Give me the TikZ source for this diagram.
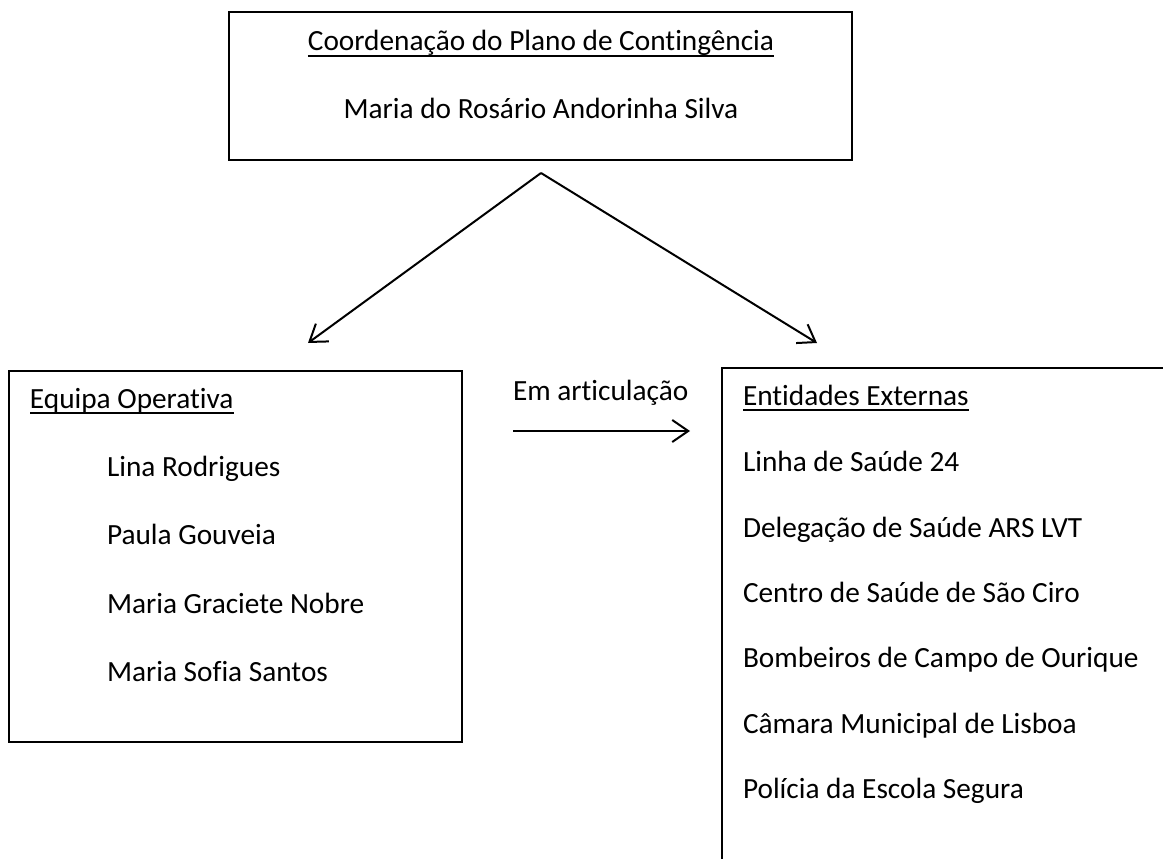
\documentclass[tikz,border=0pt]{standalone}
\usepackage{fontspec}
\setmainfont{Carlito}[Ligatures=NoCommon]
\usetikzlibrary{arrows.meta}
\tikzset{
  boxnode/.style={draw=black, line width=2pt, rectangle, inner sep=0pt, fill=none},
  txt/.style={inner sep=0pt, outer sep=0pt, font=\fontsize{29.3}{34}\selectfont, text=black},
  uline/.style={line width=1.8pt, draw=black},
  conn/.style={line width=2pt, draw=black, -{Straight Barb[length=16pt,width=22pt,line width=2pt]}}
}
\begin{document}
\begin{tikzpicture}[x=1pt,y=-1pt]
\useasboundingbox (0,0) rectangle (1163,859);
\fill[white] (0,0) rectangle (1163,859);
\clip (0,0) rectangle (1163,859);
% boxes
\node[boxnode, minimum width=623pt, minimum height=148pt] (coord) at (540.5,86) {};
\node[boxnode, minimum width=453pt, minimum height=371pt] (equipa) at (235.5,556.5) {};
\node[boxnode, minimum width=470pt, minimum height=520pt] (ext) at (957,628) {};
% top box text
\node[txt, anchor=base] (t1) at (541,51) {Coordenação do Plano de Contingência};
\node[txt, anchor=base] (t2) at (541,118) {Maria do Rosário Andorinha Silva};
\draw[uline] ([yshift=-5pt]t1.base west) -- ([yshift=-5pt]t1.base east);
% left box text
\node[txt, anchor=base west] (e0) at (30,408) {Equipa Operativa};
\draw[uline] ([yshift=-5pt]e0.base west) -- ([yshift=-5pt]e0.base east);
\node[txt, anchor=base west] (e1) at (107,476) {Lina Rodrigues};
\node[txt, anchor=base west] (e2) at (107,544) {Paula Gouveia};
\node[txt, anchor=base west] (e3) at (107,613) {Maria Graciete Nobre};
\node[txt, anchor=base west] (e4) at (107,681) {Maria Sofia Santos};
% right box text
\node[txt, anchor=base west] (x0) at (743,405) {Entidades Externas};
\draw[uline] ([yshift=-5pt]x0.base west) -- ([yshift=-5pt]x0.base east);
\node[txt, anchor=base west] (x1) at (743,471) {Linha de Saúde 24};
\node[txt, anchor=base west] (x2) at (743,537) {Delegação de Saúde ARS LVT};
\node[txt, anchor=base west] (x3) at (743,602) {Centro de Saúde de São Ciro};
\node[txt, anchor=base west] (x4) at (743,667) {Bombeiros de Campo de Ourique};
\node[txt, anchor=base west] (x5) at (743,733) {Câmara Municipal de Lisboa};
\node[txt, anchor=base west] (x6) at (743,798) {Polícia da Escola Segura};
% middle label and arrow
\node[txt, anchor=base west] (lab) at (513,400) {Em articulação};
\coordinate (as) at (513,431);
\coordinate (ae) at (690,431);
\draw[conn] (as) -- (ae);
% branching arrows
\coordinate (apex) at (541,173);
\coordinate (lt) at (308,343);
\coordinate (rt) at (817,343);
\draw[conn] (apex) -- (lt);
\draw[conn] (apex) -- (rt);
\end{tikzpicture}
\end{document}
